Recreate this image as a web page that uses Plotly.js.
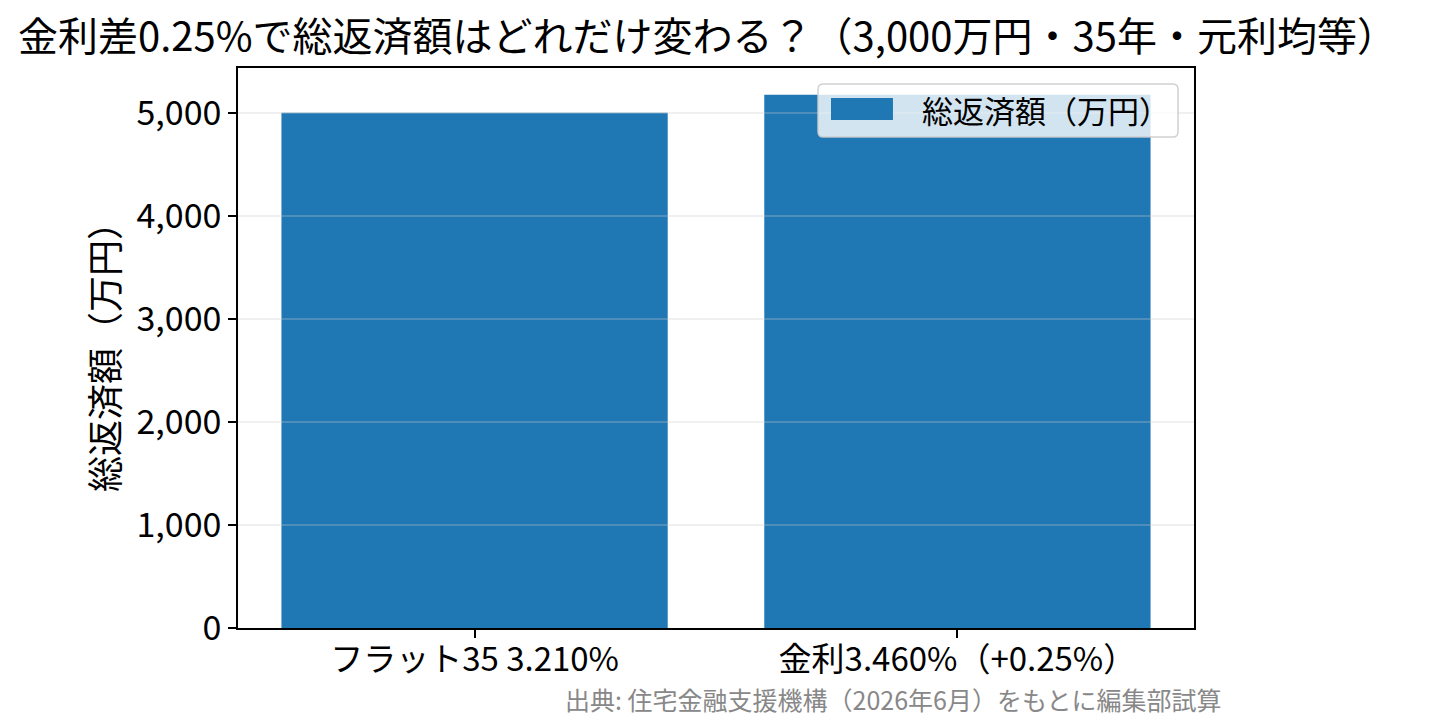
<!DOCTYPE html>
<html>
<head>
<meta charset="utf-8">
<script src="https://cdn.plot.ly/plotly-3.0.1.min.js"></script>
<style>html,body{margin:0;padding:0;background:#fff;}#chart{width:1434px;height:725px;}</style>
</head>
<body>
<div id="chart"></div>
<script>
const categories = ["フラット35 3.210%", "金利3.460%（+0.25%）"];
const totalRepayment = [5002, 5178];
const seriesName = "総返済額（万円）";
const yTickValues = [0, 1000, 2000, 3000, 4000, 5000];
const yTickLabels = ["0", "1,000", "2,000", "3,000", "4,000", "5,000"];
const titleText = "金利差0.25%で総返済額はどれだけ変わる？（3,000万円・35年・元利均等）";
const yTitleText = "総返済額（万円）";
const sourceText = "出典: 住宅金融支援機構（2026年6月）をもとに編集部試算";

const FONT = "'Noto Sans CJK JP', 'Noto Sans', sans-serif";
const BLUE = "#1f77b4";

const yMax = Math.max(...totalRepayment) * 1.05;

const gridShapes = yTickValues.filter(v => v > 0).map(v => ({
  type: "line", xref: "paper", x0: 0, x1: 1, yref: "y", y0: v, y1: v,
  line: {color: "rgba(200,200,200,0.38)", width: 1.5}, layer: "above"
}));

// custom legend box (matplotlib-like, wide patch)
function roundRect(x0, y0, x1, y1, rx, ry) {
  return `M${x0+rx},${y0} L${x1-rx},${y0} Q${x1},${y0} ${x1},${y0+ry} L${x1},${y1-ry} Q${x1},${y1} ${x1-rx},${y1} ` +
         `L${x0+rx},${y1} Q${x0},${y1} ${x0},${y1-ry} L${x0},${y0+ry} Q${x0},${y0} ${x0+rx},${y0} Z`;
}
const legendShapes = [
  {type: "path", xref: "paper", yref: "paper", layer: "above",
   path: roundRect(0.6067, 0.8768, 0.9833, 0.9714, 0.0055, 0.0095),
   fillcolor: "rgba(255,255,255,0.8)", line: {color: "rgba(204,204,204,0.9)", width: 1.5}},
  {type: "rect", xref: "paper", yref: "paper", layer: "above",
   x0: 0.6203, x1: 0.6851, y0: 0.9071, y1: 0.9464,
   fillcolor: BLUE, line: {width: 0}}
];

const data = [{
  type: "bar",
  x: [0, 1],
  y: totalRepayment,
  name: seriesName,
  width: 0.8,
  marker: {color: BLUE, line: {width: 0}},
  showlegend: false,
  hoverinfo: "y"
}];

const layout = {
  width: 1434, height: 725,
  paper_bgcolor: "#fff", plot_bgcolor: "#fff",
  margin: {l: 238, r: 240, t: 68, b: 97, pad: 0},
  font: {family: FONT, color: "#000", size: 26},
  title: {text: titleText, font: {family: FONT, size: 40, color: "#000"},
          x: 18 / 1434, xanchor: "left", xref: "container",
          y: 1 - 37 / 725, yref: "container", yanchor: "middle"},
  showlegend: false,
  xaxis: {
    range: [-0.49, 1.49],
    tickmode: "array", tickvals: [0, 1], ticktext: categories,
    showgrid: false, zeroline: false,
    showline: true, linecolor: "#000", linewidth: 1.5, mirror: true,
    ticks: "outside", ticklen: 8, tickwidth: 1.5, tickcolor: "#000",
    ticklabelstandoff: -6,
    tickfont: {family: FONT, size: 33, color: "#000"}
  },
  yaxis: {
    range: [0, yMax],
    tickmode: "array", tickvals: yTickValues, ticktext: yTickLabels,
    showgrid: false, zeroline: false,
    showline: true, linecolor: "#000", linewidth: 1.5, mirror: true,
    ticks: "outside", ticklen: 8, tickwidth: 1.5, tickcolor: "#000",
    tickfont: {family: FONT, size: 34, color: "#000"},
    title: {text: yTitleText, font: {family: FONT, size: 36, color: "#000"}, standoff: 6}
  },
  shapes: gridShapes.concat(legendShapes),
  annotations: [
    {text: seriesName, xref: "paper", yref: "paper", x: 0.7134, y: 0.925,
     xanchor: "left", yanchor: "middle", showarrow: false,
     font: {family: FONT, size: 31, color: "#000"}},
    {text: sourceText, xref: "paper", yref: "paper", x: 1.03, y: 0, xanchor: "right", yanchor: "middle",
     yshift: -71, showarrow: false, font: {family: FONT, size: 25, color: "#888888"}}
  ]
};

Plotly.newPlot("chart", data, layout, {displayModeBar: false, responsive: false});
</script>
</body>
</html>
